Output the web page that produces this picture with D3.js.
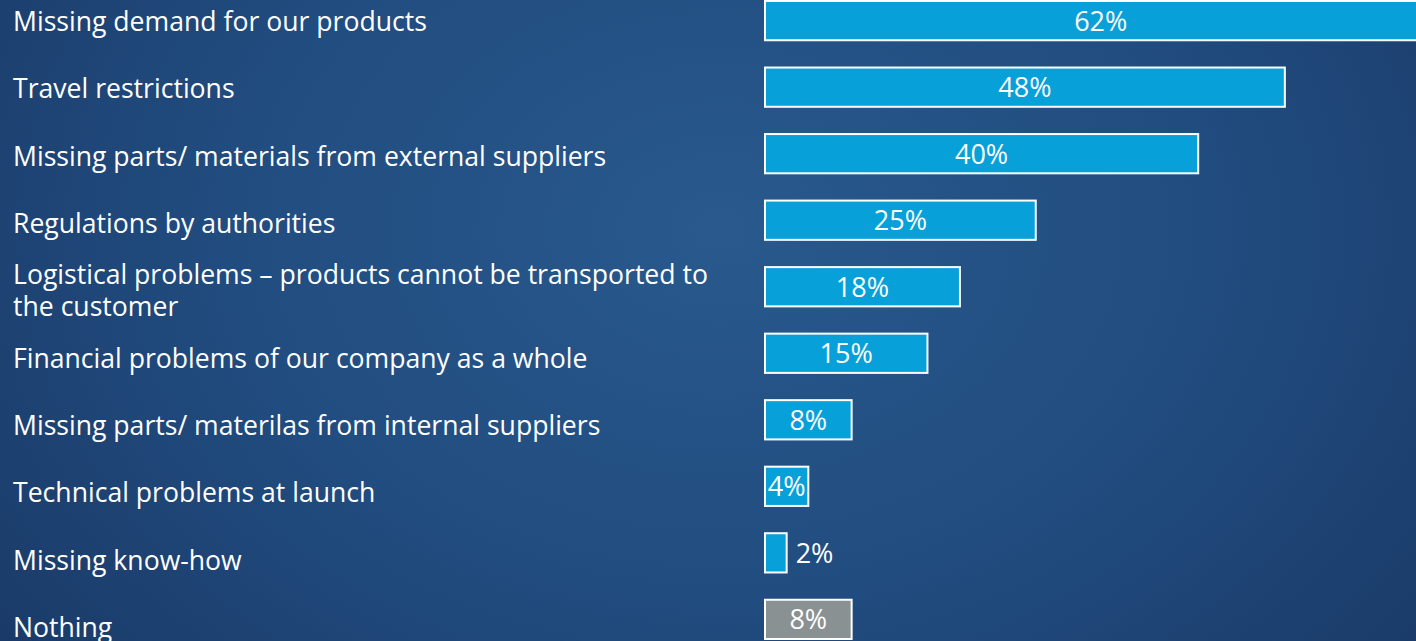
<!DOCTYPE html>
<html>
<head>
<meta charset="utf-8">
<script src="https://cdn.jsdelivr.net/npm/d3@7"></script>
<style>
  html, body { margin: 0; padding: 0; overflow: hidden; background: #1c3f6e; }
  svg { display: block; }
</style>
</head>
<body>
<svg id="chart" width="1416" height="641"></svg>
<script>
// Reasons for production disruption (share of respondents, %)
const categories = [
  "Missing demand for our products",
  "Travel restrictions",
  "Missing parts/ materials from external suppliers",
  "Regulations by authorities",
  "Logistical problems – products cannot be transported to the customer",
  "Financial problems of our company as a whole",
  "Missing parts/ materilas from internal suppliers",
  "Technical problems at launch",
  "Missing know-how",
  "Nothing"
];
const values = [62, 48, 40, 25, 18, 15, 8, 4, 2, 8];
const groups = ["cause", "cause", "cause", "cause", "cause", "cause", "cause", "cause", "cause", "none"];

const W = 1416, H = 641;
const svg = d3.select("#chart");

// background: soft radial glow on deep blue
const defs = svg.append("defs");
const grad = defs.append("radialGradient")
  .attr("id", "bg").attr("gradientUnits", "userSpaceOnUse")
  .attr("cx", 720).attr("cy", 230).attr("r", 900)
  .attr("gradientTransform", "translate(720,230) scale(1,0.75) translate(-720,-230)");
grad.append("stop").attr("offset", "0%").attr("stop-color", "#29598d");
grad.append("stop").attr("offset", "55%").attr("stop-color", "#214c7f");
grad.append("stop").attr("offset", "100%").attr("stop-color", "#1a3b69");
svg.append("rect").attr("width", W).attr("height", H).attr("fill", "url(#bg)");

const x = d3.scaleLinear().domain([0, 100]).range([765, 765 + 1083]);
const y = d3.scaleBand().domain(categories).range([1, 639]).paddingInner(0.41).paddingOuter(0);
const yLabel = d3.scalePoint().domain(categories).range([22, 628]);
const color = d3.scaleOrdinal().domain(["cause", "none"]).range(["#08a0d8", "#8a9192"]);

const rows = categories.map((c, i) => ({ c, v: values[i], g: groups[i] }));

// category labels on the left
const font = "'Open Sans', 'Noto Sans', sans-serif";
const lab = svg.append("g").attr("font-family", font).attr("font-size", 26.6).attr("fill", "#ffffff");
lab.selectAll("text").data(rows).join("text")
  .attr("x", 13)
  .attr("y", d => yLabel(d.c))
  .each(function (d) {
    const t = d3.select(this);
    const lines = d.c.startsWith("Logistical")
      ? ["Logistical problems – products cannot be transported to", "the customer"]
      : [d.c];
    const lh = 32;
    lines.forEach((ln, k) => {
      t.append("tspan")
        .attr("x", 13)
        .attr("dy", k === 0 ? (-(lines.length - 1) * lh / 2 + 9) + "px" : lh + "px")
        .text(ln);
    });
  });

// bars
const bars = svg.append("g");
bars.selectAll("rect").data(rows).join("rect")
  .attr("x", x(0))
  .attr("y", d => y(d.c))
  .attr("width", d => x(d.v) - x(0))
  .attr("height", y.bandwidth())
  .attr("fill", d => color(d.g))
  .attr("stroke", "#ffffff")
  .attr("stroke-width", 2);

// value labels: centred inside, or just past the end when the bar is too narrow
const vl = svg.append("g").attr("font-family", font).attr("font-size", 27).attr("fill", "#ffffff");
vl.selectAll("text").data(rows).join("text")
  .text(d => d.v + "%")
  .attr("y", d => y(d.c) + y.bandwidth() / 2 + 10)
  .each(function (d) {
    const t = d3.select(this);
    const w = this.getComputedTextLength();
    const bw = x(d.v) - x(0);
    if (w <= bw + 4) {
      t.attr("text-anchor", "middle").attr("x", x(0) + bw / 2);
    } else {
      t.attr("text-anchor", "start").attr("x", x(d.v) + 9);
    }
  });
</script>
</body>
</html>
